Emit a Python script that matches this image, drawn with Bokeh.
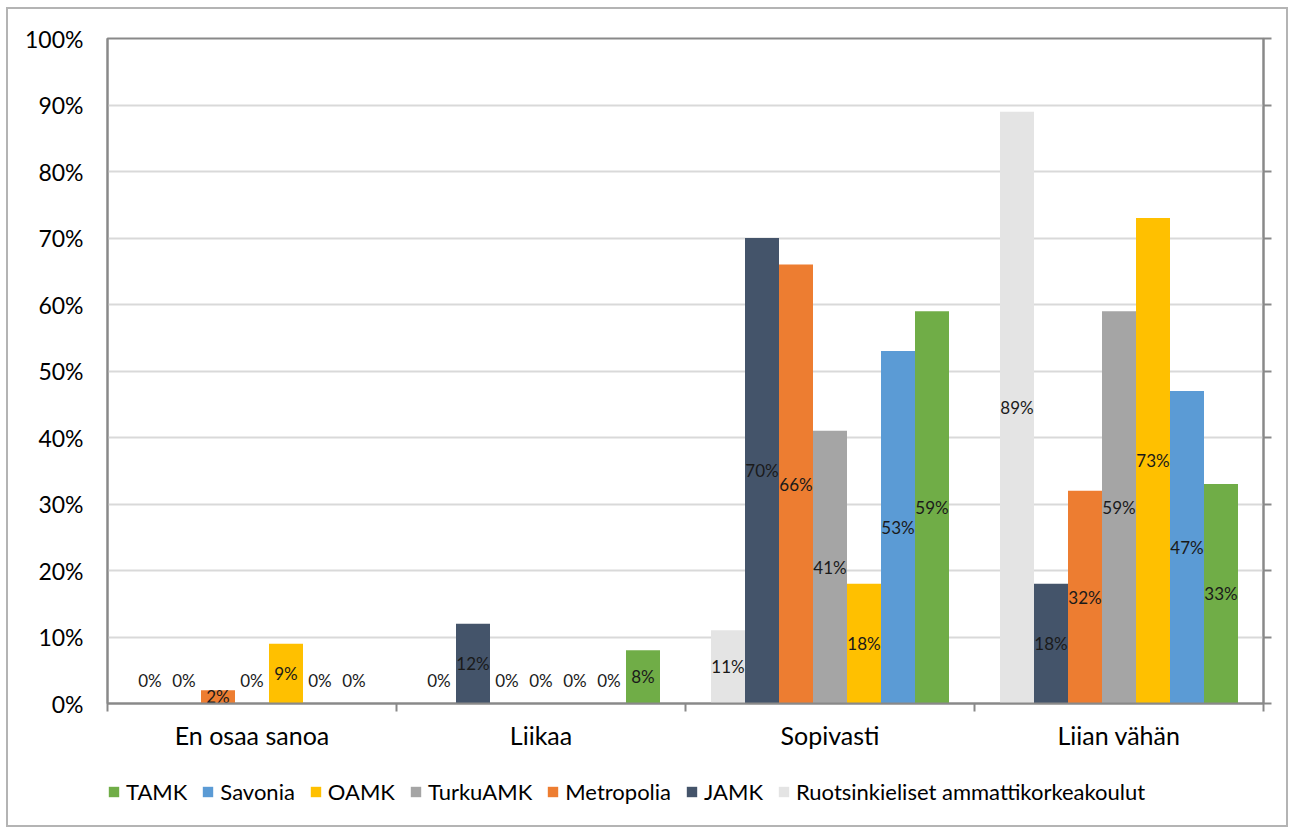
from bokeh.plotting import figure
from bokeh.layouts import column
from bokeh.models import (Range1d, FixedTicker, NumeralTickFormatter, LinearAxis,
                          Legend, LegendItem, ColumnDataSource)
from bokeh.embed import file_html
from bokeh.resources import INLINE
from bokeh.core.properties import value

categories = ["En osaa sanoa", "Liikaa", "Sopivasti", "Liian vähän"]
series = ["Ruotsinkieliset ammattikorkeakoulut", "JAMK", "Metropolia",
          "TurkuAMK", "OAMK", "Savonia", "TAMK"]
colors = ["#e4e4e4", "#44546a", "#ed7d31", "#a5a5a5", "#ffc000", "#5b9bd5", "#70ad47"]

ruotsinkieliset = [0, 0, 11, 89]
jamk = [0, 12, 70, 18]
metropolia = [2, 0, 66, 32]
turkuamk = [0, 0, 41, 59]
oamk = [9, 0, 18, 73]
savonia = [0, 0, 53, 47]
tamk = [0, 8, 59, 33]
values = [ruotsinkieliset, jamk, metropolia, turkuamk, oamk, savonia, tamk]

yticks = [i / 10 for i in range(11)]

FONT = "Lato"
W = 1278

p = figure(width=W, height=746, output_backend="svg", toolbar_location=None,
           x_range=Range1d(0, len(categories)), y_range=Range1d(0, 1),
           min_border_left=99, min_border_top=29, min_border_right=23,
           min_border_bottom=52)

p.outline_line_color = "#898989"
p.outline_line_width = 2
p.background_fill_color = "white"
p.border_fill_color = "white"

n = len(series)
bw = 34 / 289
renderers = []
for j, (name, vals, col) in enumerate(zip(series, values, colors)):
    xs = [i + 0.5 + (j - (n - 1) / 2) * bw for i in range(len(categories))]
    tops = [v / 100 for v in vals]
    src = ColumnDataSource(dict(
        x=xs, top=tops,
        ly=[(v / 100) / 2 if v > 0 else 0.035 for v in vals],
        txt=[f"{v}%" for v in vals]))
    r = p.vbar(x="x", top="top", width=bw, bottom=0, source=src,
               fill_color=col, line_color=None)
    p.text(x="x", y="ly", text="txt", source=src, text_align="center",
           text_baseline="middle", text_font=value(FONT), text_font_size="17px",
           text_color="#1a1a1a")
    renderers.append(r)

# y axis (left)
yax = p.yaxis[0]
yax.ticker = FixedTicker(ticks=yticks)
yax.formatter = NumeralTickFormatter(format="0%")
yax.major_tick_out = 0
yax.major_tick_in = 0
yax.minor_tick_out = 0
yax.minor_tick_in = 0
yax.axis_line_color = "#898989"
yax.axis_line_width = 2
yax.major_label_standoff = 24
yax.major_label_text_font = FONT
yax.major_label_text_font_size = "23px"
yax.major_label_text_color = "#000000"

# right axis with ticks only
rax = LinearAxis(ticker=FixedTicker(ticks=yticks),
                 major_label_overrides={t: "" for t in yticks},
                 major_tick_out=8, major_tick_in=0, minor_tick_out=0, minor_tick_in=0,
                 major_tick_line_color="#898989", major_tick_line_width=2,
                 axis_line_color="#898989", axis_line_width=2, major_label_standoff=0)
p.add_layout(rax, "right")

# x axis
xax = p.xaxis[0]
xax.ticker = FixedTicker(ticks=[i + 0.5 for i in range(len(categories))],
                         minor_ticks=list(range(len(categories) + 1)))
xax.major_label_overrides = {i + 0.5: c for i, c in enumerate(categories)}
xax.major_tick_out = 0
xax.major_tick_in = 0
xax.minor_tick_out = 8
xax.minor_tick_in = 0
xax.minor_tick_line_color = "#898989"
xax.minor_tick_line_width = 2
xax.axis_line_color = "#898989"
xax.axis_line_width = 2
xax.major_label_standoff = 8
xax.major_label_text_font = FONT
xax.major_label_text_font_size = "25px"
xax.major_label_text_color = "#000000"

p.xgrid.grid_line_color = None
p.ygrid.ticker = FixedTicker(ticks=yticks)
p.ygrid.grid_line_color = "#d9d9d9"
p.ygrid.grid_line_width = 2

# legend strip below the chart (proxy glyphs sit outside the visible range)
lp = figure(width=W, height=70, output_backend="svg", toolbar_location=None,
            x_range=Range1d(0, 1), y_range=Range1d(0, 1),
            min_border_left=0, min_border_right=0, min_border_top=0, min_border_bottom=0)
lp.axis.visible = False
lp.grid.visible = False
lp.outline_line_color = None
lp.background_fill_color = "white"
lp.border_fill_color = "white"
lrs = []
for name, col in zip(series, colors):
    lrs.append(lp.vbar(x=[-1], top=[0], width=0.1, fill_color=col, line_color=None))

items = [LegendItem(label=s, renderers=[r]) for s, r in zip(series, lrs)][::-1]
leg = Legend(items=items, orientation="horizontal", location=(0, 20),
             label_text_font=FONT, label_text_font_size="22px",
             label_text_color="#000000", glyph_width=13, glyph_height=13,
             label_standoff=6, spacing=14, border_line_color=None,
             background_fill_alpha=0, margin=0, padding=0)
lp.add_layout(leg, "center")

layout = column(p, lp, spacing=0)
layout.margin = (7, 0, 0, 6)
layout.styles = {"border": "2px solid #b4b4b4", "background-color": "white"}

open("out.html", "w").write(file_html(layout, INLINE))
